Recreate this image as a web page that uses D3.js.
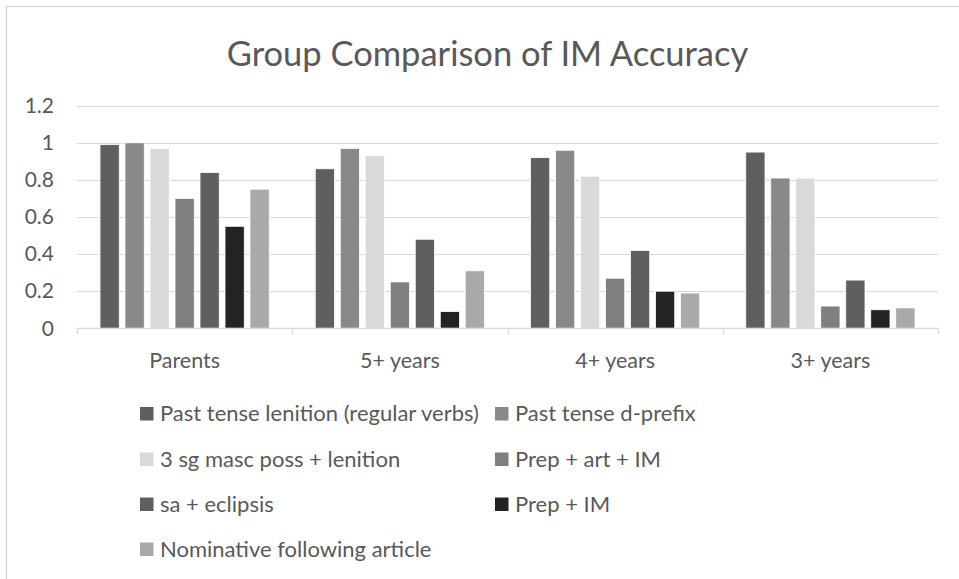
<!DOCTYPE html>
<html>
<head>
<meta charset="utf-8">
<script src="https://cdn.jsdelivr.net/npm/d3@7"></script>
<style>
  html, body { margin: 0; padding: 0; background: #fff; }
  svg { display: block; }
  text { font-family: Lato, "Open Sans", sans-serif; fill: #595959; }
</style>
</head>
<body>
<svg id="chart" width="959" height="579"></svg>
<script>
const title = "Group Comparison of IM Accuracy";
const categories = ["Parents", "5+ years", "4+ years", "3+ years"];
const seriesNames = [
  "Past tense lenition (regular verbs)",
  "Past tense d-prefix",
  "3 sg masc poss + lenition",
  "Prep + art + IM",
  "sa + eclipsis",
  "Prep + IM",
  "Nominative following article"
];
const seriesColors = ["#5f5f5f", "#898989", "#d9d9d9", "#7f7f7f", "#5f5f5f", "#232323", "#a9a9a9"];
const pastTenseLenition = [0.99, 0.86, 0.92, 0.95];
const pastTenseDPrefix  = [1.00, 0.97, 0.96, 0.81];
const sgMascPoss        = [0.97, 0.93, 0.82, 0.81];
const prepArtIM         = [0.70, 0.25, 0.27, 0.12];
const saEclipsis        = [0.84, 0.48, 0.42, 0.26];
const prepIM            = [0.55, 0.09, 0.20, 0.10];
const nominativeArticle = [0.75, 0.31, 0.19, 0.11];
const seriesValues = [pastTenseLenition, pastTenseDPrefix, sgMascPoss, prepArtIM, saEclipsis, prepIM, nominativeArticle];
const yTicks = [0, 0.2, 0.4, 0.6, 0.8, 1, 1.2];

const svg = d3.select("#chart");

// chart area border
svg.append("rect")
  .attr("x", 6.5).attr("y", 6.5)
  .attr("width", 1000).attr("height", 700)
  .attr("fill", "#fff").attr("stroke", "#d9d9d9").attr("stroke-width", 1.3);

const plot = { left: 77, right: 938, top: 105.7, bottom: 328.3 };

const y = d3.scaleLinear().domain([0, 1.2]).range([plot.bottom, plot.top]);
const x0 = d3.scaleBand().domain(categories).range([plot.left, plot.right]).padding(0);
const x1 = d3.scaleBand().domain(d3.range(seriesNames.length))
  .range([0, x0.bandwidth()]).paddingInner(0.23).paddingOuter(0.92);

// gridlines
svg.append("g").selectAll("line")
  .data(yTicks.filter(d => d > 0))
  .join("line")
  .attr("x1", plot.left).attr("x2", plot.right)
  .attr("y1", d => Math.round(y(d)) + 0.5).attr("y2", d => Math.round(y(d)) + 0.5)
  .attr("stroke", "#d9d9d9").attr("stroke-width", 1.2);

// y axis labels
const yAxis = d3.axisLeft(y).tickValues(yTicks).tickSize(0).tickPadding(0)
  .tickFormat(d => d3.format("~g")(d));
const yg = svg.append("g").attr("transform", `translate(${54},0)`).call(yAxis);
yg.select(".domain").remove();
yg.selectAll("text").style("font-size", "21px").attr("fill", "#595959")
  .style("font-family", "Lato, sans-serif");

// bars
const groups = svg.append("g").selectAll("g")
  .data(categories)
  .join("g")
  .attr("transform", d => `translate(${x0(d)},0)`);

groups.selectAll("rect")
  .data((c, ci) => seriesValues.map((vals, si) => ({ si, v: vals[ci] })))
  .join("rect")
  .attr("x", d => x1(d.si))
  .attr("width", x1.bandwidth())
  .attr("y", d => y(d.v))
  .attr("height", d => y(0) - y(d.v))
  .attr("fill", d => seriesColors[d.si])
  .attr("stroke", "#ffffff").attr("stroke-width", 0.8);

// x axis
const xAxis = d3.axisBottom(x0).tickSize(0).tickPadding(0);
const xg = svg.append("g").attr("transform", `translate(0,${plot.bottom})`).call(xAxis);
xg.select(".domain").remove();
xg.selectAll("text").remove();
svg.append("line")
  .attr("x1", plot.left).attr("x2", plot.right)
  .attr("y1", Math.round(plot.bottom) + 0.5).attr("y2", Math.round(plot.bottom) + 0.5)
  .attr("stroke", "#d9d9d9").attr("stroke-width", 1.3);
const boundaries = categories.map(c => x0(c)).concat([x0(categories[categories.length - 1]) + x0.bandwidth()]);
svg.append("g").selectAll("line")
  .data(boundaries)
  .join("line")
  .attr("x1", d => Math.round(d) + 0.5).attr("x2", d => Math.round(d) + 0.5)
  .attr("y1", plot.bottom).attr("y2", plot.bottom + 6)
  .attr("stroke", "#d9d9d9").attr("stroke-width", 1.3);
svg.append("g").selectAll("text")
  .data(categories)
  .join("text")
  .attr("x", d => x0(d) + x0.bandwidth() / 2)
  .attr("y", 367.5)
  .attr("text-anchor", "middle")
  .style("font-size", "21.5px")
  .text(d => d);

// title
svg.append("text")
  .attr("x", 487.5).attr("y", 66)
  .attr("text-anchor", "middle")
  .style("font-size", "34.5px")
  .text(title);

// legend
const legendCols = [140, 495];
const legendRows = [413.5, 459, 504, 549];
const lg = svg.append("g").selectAll("g")
  .data(seriesNames)
  .join("g")
  .attr("transform", (d, i) => `translate(${legendCols[i % 2]},${legendRows[Math.floor(i / 2)]})`);
lg.append("rect")
  .attr("x", 0).attr("y", -6.5).attr("width", 13.5).attr("height", 13.5)
  .attr("fill", (d, i) => seriesColors[i]);
lg.append("text")
  .attr("x", 20).attr("y", 0).attr("dy", "0.35em")
  .style("font-size", "22px")
  .text(d => d);
</script>
</body>
</html>
